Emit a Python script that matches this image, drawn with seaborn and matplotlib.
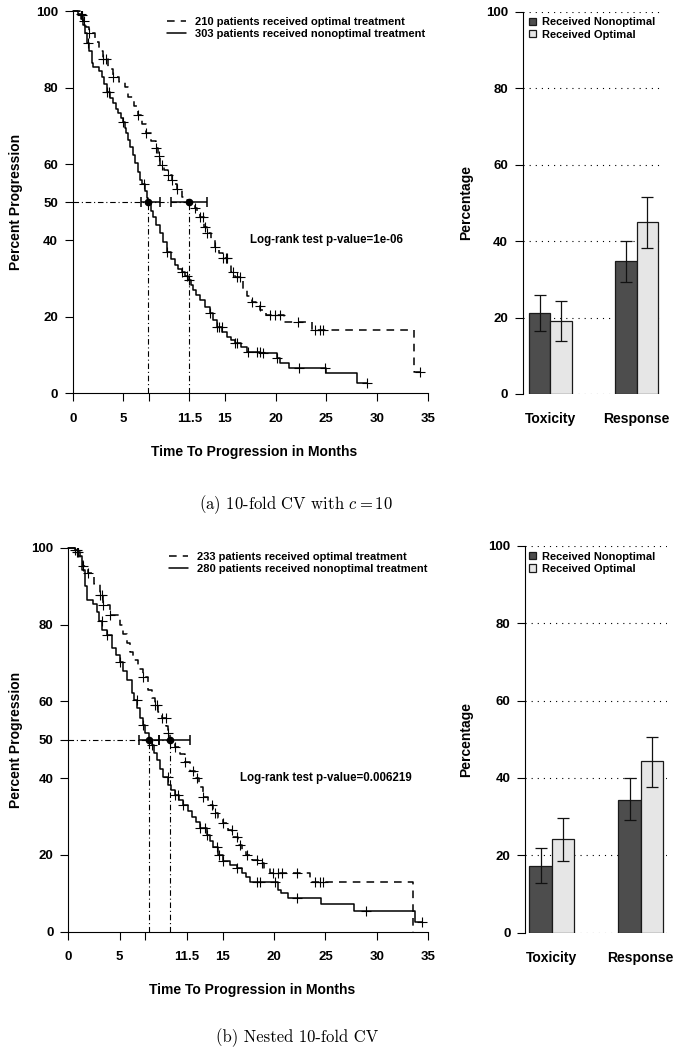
"""
Treatment comparison figure: Kaplan-Meier curves + toxicity/response bars
Run: python plot.py
"""

import matplotlib
matplotlib.use('Agg')

import matplotlib.pyplot as plt
import numpy as np
import pandas as pd
import seaborn as sns


# ── Panel (a) — 10-fold CV with c = 10 ───────────────────────────────────────

# step breakpoints: time (months) -> percent progression-free after the step
A_OPT_T = [0, 0.7, 1.0, 1.3, 1.64, 2.2, 2.6, 3.0, 3.5, 4.0, 4.6, 5.16, 5.5, 6.0, 6.47,
           6.85, 7.23, 7.7, 8.2, 8.4, 8.6, 9.0, 9.43, 9.76, 10.0, 10.3, 10.75, 11.2,
           11.47, 12.06, 12.3, 12.55, 12.9, 13.2, 13.6, 14.0, 14.4, 14.85, 15.2, 15.6,
           16.0, 16.8, 17.2, 17.65, 18.1, 18.5, 19.1, 20.8, 23.6, 33.6]
A_OPT_S = [100, 99, 97.5, 96, 94.2, 92, 89.7, 87.4, 85, 82.9, 81.5, 80.1, 77.6, 75.2, 72.9,
           70.5, 68.1, 66, 64.1, 62, 59.8, 58.5, 57.1, 55.8, 54.8, 53.4, 51.5, 50.6,
           49.9, 48.4, 47.4, 46.2, 43.6, 41.9, 40.1, 38.4, 36.8, 35.3, 33.5, 31.8,
           30.5, 27.0, 25.5, 24.0, 22.8, 21.8, 20.5, 18.7, 16.6, 5.7]
A_OPT_CENS = [0.89, 1.11, 1.64, 3.02, 3.28, 4.0, 6.47, 7.23, 8.2, 8.55, 8.78, 9.43, 9.76,
              10.32, 12.06, 12.55, 12.88, 13.05, 13.21, 14.03, 14.86, 15.09, 15.19, 15.84,
              16.17, 16.5, 17.65, 18.47, 19.46, 19.95, 20.45, 22.25, 23.9, 24.39, 24.72, 34.25]

A_NON_T = [0, 0.55, 0.8, 1.0, 1.2, 1.4, 1.6, 1.87, 2.0, 2.6, 2.86, 3.1, 3.35, 3.68, 4.0,
           4.25, 4.5, 4.8, 5.0, 5.15, 5.3, 5.5, 5.65, 5.9, 6.14, 6.4, 6.64, 6.85, 7.1, 7.3,
           7.46, 7.7, 7.95, 8.25, 8.6, 8.95, 9.33, 9.7, 10.1, 10.4, 10.75, 11.1, 11.4,
           11.65, 11.9, 12.2, 12.55, 13.0, 13.5, 13.85, 14.2, 14.7, 15.2, 15.6, 16.0,
           16.6, 17.2, 18.5, 20.1, 20.4, 21.3, 25.0, 28.0]
A_NON_S = [100, 99.3, 98, 96.5, 94.2, 91.8, 89.5, 86.4, 85.5, 84.5, 82.9, 81, 79, 77.2, 75.9,
           74.5, 73.3, 72, 71.1, 69.5, 68.1, 66.3, 64.6, 62.4, 60.2, 58, 55.8, 54.8, 53, 51,
           49.8, 47.8, 46.2, 44, 41.9, 39.5, 37.1, 35.2, 33.6, 32.6, 31.8, 30.8, 29.7,
           28.3, 27.0, 25.7, 24.4, 22.6, 20.9, 19.1, 17.4, 16.0, 14.8, 13.9, 13.1,
           12.0, 10.9, 10.5, 9.2, 7.9, 6.5, 5.2, 2.6]
A_NON_CENS = [0.79, 1.54, 3.35, 3.61, 5.0, 7.03, 9.33, 10.75, 11.24, 11.5, 13.54, 14.26,
              14.46, 14.69, 16.0, 16.17, 17.32, 18.14, 18.47, 18.8, 20.12, 22.35, 24.88, 28.99]

A_MEDIAN = [7.46, 11.47]          # nonoptimal, optimal
A_CI_LO  = [6.7, 9.66]
A_CI_HI  = [8.6, 13.2]
A_N_OPT, A_N_NON = 210, 303
A_PVALUE = '1e-06'

A_BAR_NON    = [21.1, 34.8]       # Toxicity, Response
A_BAR_NON_LO = [16.6, 29.4]
A_BAR_NON_HI = [25.8, 40.1]
A_BAR_OPT    = [19.1, 44.9]
A_BAR_OPT_LO = [13.9, 38.1]
A_BAR_OPT_HI = [24.2, 51.4]


# ── Panel (b) — Nested 10-fold CV ────────────────────────────────────────────

B_OPT_T = [0, 0.8, 1.1, 1.46, 1.94, 2.5, 3.08, 3.4, 4.05, 5.0, 5.3, 5.67, 6.0, 6.32, 6.8,
           7.23, 7.77, 8.1, 8.4, 8.75, 9.07, 9.5, 9.7, 9.91, 10.37, 10.85, 11.34, 11.8,
           12.3, 12.7, 13.1, 13.6, 14.1, 14.6, 15.07, 15.5, 15.9, 16.5, 16.9, 17.3,
           17.9, 18.5, 19.0, 19.6, 23.5, 33.5]
B_OPT_S = [100, 99, 97.5, 95.2, 93.5, 90.5, 87.8, 85.2, 82.6, 80, 77.5, 75.2, 73, 70.8, 68.5,
           66.5, 63.0, 61, 59.1, 57.3, 55.6, 53.5, 51.7, 49.8, 48.2, 46.2, 44.3, 42,
           40.0, 37.6, 35.2, 33, 30.9, 29.6, 28.3, 26.5, 24.8, 22.6, 21.3, 20.0,
           18.8, 17.8, 16.5, 15.2, 13.0, 0]
B_OPT_CENS = [0.81, 0.97, 1.46, 1.95, 3.08, 3.24, 3.4, 4.05, 7.23, 8.43, 8.59, 9.07, 9.49,
              9.72, 10.37, 11.34, 12.15, 12.47, 13.12, 13.93, 14.26, 15.07, 15.88, 16.36,
              16.69, 17.33, 18.3, 18.79, 19.92, 20.41, 20.73, 22.26, 23.97, 24.46, 24.78]

B_NON_T = [0, 0.65, 0.97, 1.3, 1.62, 1.85, 2.4, 2.76, 3.0, 3.25, 3.73, 4.22, 4.6, 5.02, 5.35,
           5.67, 6.16, 6.4, 6.65, 6.97, 7.23, 7.45, 7.87, 8.1, 8.35, 8.6, 8.9, 9.24, 9.73,
           10.0, 10.37, 10.8, 11.18, 11.6, 12.0, 12.4, 12.8, 13.45, 13.8, 14.1, 14.6,
           15.07, 15.7, 16.4, 16.9, 17.3, 17.66, 20.4, 20.7, 21.4, 24.6, 27.8, 33.7]
B_NON_S = [100, 99.5, 97.8, 94.3, 90, 86.5, 85.5, 83.4, 81, 78.7, 77.4, 73.9, 72, 70.4, 68,
           65.6, 62.2, 60.3, 58.3, 55.8, 54.0, 51.7, 49.8, 48.7, 46.7, 44.8, 42.5, 40.4, 38.3,
           37.0, 35.6, 34.3, 33.0, 31.5, 30.0, 28.5, 27.0, 25.2, 23.7, 22.2, 20.0,
           18.3, 17.3, 16.5, 15.3, 14.3, 12.9, 10.9, 10.0, 8.7, 7.1, 5.4, 2.6]
B_NON_CENS = [0.65, 0.81, 3.24, 3.73, 5.02, 6.64, 7.23, 8.1, 9.72, 10.37, 10.69, 11.18, 12.8,
              13.28, 13.45, 14.42, 14.68, 15.07, 16.4, 18.3, 18.63, 20.09, 22.26, 28.99, 34.34]

B_MEDIAN = [7.87, 9.91]
B_CI_LO  = [6.9, 8.85]
B_CI_HI  = [8.85, 11.83]
B_N_OPT, B_N_NON = 233, 280
B_PVALUE = '0.006219'

B_BAR_NON    = [17.2, 34.4]
B_BAR_NON_LO = [12.9, 29.0]
B_BAR_NON_HI = [21.8, 40.0]
B_BAR_OPT    = [24.1, 44.4]
B_BAR_OPT_LO = [18.4, 37.7]
B_BAR_OPT_HI = [29.7, 50.6]


# ── Shared labels / ticks ────────────────────────────────────────────────────

KM_XTICKS      = [0, 5, 7.5, 11.5, 15, 20, 25, 30, 35]
KM_XTICKLABELS = ['0', '5', '', '11.5', '15', '20', '25', '30', '35']
KM_YTICKS      = [0, 20, 40, 50, 60, 80, 100]
BAR_YTICKS     = [0, 20, 40, 60, 80, 100]
BAR_OUTCOMES   = ['Toxicity', 'Response']
BAR_GROUPS     = ['Received Nonoptimal', 'Received Optimal']

DARK  = '#4d4d4d'
LIGHT = '#e6e6e6'
W, H  = 679, 1050

sns.set_style('ticks', rc={'axes.edgecolor': 'black', 'text.color': 'black',
                           'axes.labelcolor': 'black', 'xtick.color': 'black',
                           'ytick.color': 'black'})
plt.rcParams['font.family'] = ['Liberation Sans', 'DejaVu Sans']
plt.rcParams['font.weight'] = 'bold'
plt.rcParams['axes.labelweight'] = 'bold'
plt.rcParams['mathtext.fontset'] = 'cm'


def px_rect(x0, x1, y_top, y_bot):
    """axes rect in figure fraction from pixel coords (top-left origin)"""
    return [x0 / W, 1 - y_bot / H, (x1 - x0) / W, (y_bot - y_top) / H]


def draw_curve(ax, times, surv, cens, label, linestyle):
    t_end = max(times[-1], max(cens))
    df = pd.DataFrame({'t': list(times) + [t_end], 's': list(surv) + [surv[-1]]})
    sns.lineplot(data=df, x='t', y='s', drawstyle='steps-post', estimator=None, sort=False,
                 color='black', linewidth=1.1, linestyle=linestyle, label=label, ax=ax)
    idx = np.searchsorted(times, cens, side='right') - 1
    sns.scatterplot(x=cens, y=np.asarray(surv)[idx], marker='+', s=50, color='black',
                    linewidth=0.8, ax=ax, zorder=4, legend=False)


def draw_km(ax, opt, non, n_opt, n_non, medians, ci_lo, ci_hi, pvalue, leg_anchor, ylab_x):
    draw_curve(ax, *opt, f'{n_opt} patients received optimal treatment', (0, (5, 4)))
    draw_curve(ax, *non, f'{n_non} patients received nonoptimal treatment', '-')
    for line in ax.lines:
        line.set_clip_on(False)

    dashdot = (0, (5, 2.5, 1, 2.5))
    ax.plot([0, max(medians)], [50, 50], color='black', lw=0.8, linestyle=dashdot)
    for m in medians:
        ax.plot([m, m], [0, 50], color='black', lw=0.8, linestyle=dashdot)
    med = np.asarray(medians)
    ax.errorbar(med, [50, 50], xerr=[med - np.asarray(ci_lo), np.asarray(ci_hi) - med],
                fmt='o', ms=4.5, color='black', elinewidth=1.1, capsize=3.5, capthick=1.1,
                zorder=5)

    ax.set_xlim(0, 35)
    ax.set_ylim(0, 100)
    ax.set_xticks(KM_XTICKS)
    ax.set_xticklabels(KM_XTICKLABELS)
    ax.set_yticks(KM_YTICKS)
    ax.tick_params(axis='both', labelsize=9.5, length=6, width=0.8, direction='out')
    ax.tick_params(axis='x', pad=8)
    ax.tick_params(axis='y', pad=4.5)
    sns.despine(ax=ax)
    ax.spines['left'].set_bounds(0, 100)
    ax.spines['bottom'].set_bounds(0, 35)
    for sp in ('left', 'bottom'):
        ax.spines[sp].set_linewidth(0.8)

    ax.set_xlabel('Time To Progression in Months', fontsize=10)
    ax.set_ylabel('Percent Progression', fontsize=10)
    ax.xaxis.set_label_coords(0.51, -0.135)
    ax.yaxis.set_label_coords(ylab_x, 0.5)

    handles, labels = ax.get_legend_handles_labels()
    ax.legend(handles, labels, loc='upper left', bbox_to_anchor=leg_anchor, frameon=False,
              fontsize=8, handlelength=1.7, handletextpad=0.8, labelspacing=0.15,
              borderaxespad=0, borderpad=0)
    ax.text(0.715, 0.40, f'Log-rank test p-value={pvalue}', transform=ax.transAxes,
            ha='center', va='center', fontsize=8.3)


def draw_bars(ax, non, non_lo, non_hi, opt, opt_lo, opt_hi, xlim, leg_anchor, ylab_x):
    df = pd.DataFrame({
        'Outcome': BAR_OUTCOMES * 2,
        'Group':   [BAR_GROUPS[0]] * 2 + [BAR_GROUPS[1]] * 2,
        'Pct':     non + opt,
        'Lo':      non_lo + opt_lo,
        'Hi':      non_hi + opt_hi,
    })
    sns.barplot(data=df, x='Outcome', y='Pct', hue='Group', order=BAR_OUTCOMES,
                hue_order=BAR_GROUPS, palette=[DARK, LIGHT], saturation=1, width=0.5,
                errorbar=None, edgecolor='#1a1a1a', linewidth=0.9, ax=ax, zorder=2)
    for container, (_, grp) in zip(ax.containers, df.groupby('Group', sort=False)):
        xs = [b.get_x() + b.get_width() / 2 for b in container]
        ys = grp['Pct'].to_numpy()
        ax.errorbar(xs, ys, yerr=[ys - grp['Lo'].to_numpy(), grp['Hi'].to_numpy() - ys],
                    fmt='none', ecolor='#111111', elinewidth=0.9, capsize=4, capthick=0.9,
                    zorder=3)

    leg = ax.get_legend()
    handles, labels = leg.legend_handles, [t.get_text() for t in leg.texts]
    ax.legend(handles, labels, loc='upper left', bbox_to_anchor=leg_anchor, frameon=False,
              fontsize=8, handlelength=0.65, handleheight=0.65, handletextpad=0.5,
              labelspacing=0.2, borderaxespad=0, borderpad=0)

    ax.set_xlim(*xlim)
    ax.set_ylim(0, 100)
    ax.set_yticks(BAR_YTICKS)
    ax.yaxis.grid(True, linestyle=(0, (1, 4.5)), color='black', linewidth=0.8)
    ax.set_axisbelow(True)
    ax.tick_params(axis='y', labelsize=9.5, length=6, width=0.8, pad=4.5)
    ax.tick_params(axis='x', labelsize=10, length=0, pad=13)
    sns.despine(ax=ax, bottom=True)
    ax.spines['left'].set_bounds(0, 100)
    ax.spines['left'].set_linewidth(0.8)
    ax.set_xlabel('')
    ax.set_ylabel('Percentage', fontsize=10)
    ax.yaxis.set_label_coords(ylab_x, 0.5)


def main() -> None:
    fig = plt.figure(figsize=(W / 100, H / 100), dpi=100)

    ax_a = fig.add_axes(px_rect(72.7, 427.7, 11.3, 393.3))
    draw_km(ax_a, (A_OPT_T, A_OPT_S, A_OPT_CENS), (A_NON_T, A_NON_S, A_NON_CENS),
            A_N_OPT, A_N_NON, A_MEDIAN, A_CI_LO, A_CI_HI, A_PVALUE, (0.265, 0.985), -0.14)

    ax_b = fig.add_axes(px_rect(68.3, 428.3, 548, 931.7))
    draw_km(ax_b, (B_OPT_T, B_OPT_S, B_OPT_CENS), (B_NON_T, B_NON_S, B_NON_CENS),
            B_N_OPT, B_N_NON, B_MEDIAN, B_CI_LO, B_CI_HI, B_PVALUE, (0.28, 0.99), -0.126)

    bar_a = fig.add_axes(px_rect(522.7, 660.0, 11.7, 394))
    draw_bars(bar_a, A_BAR_NON, A_BAR_NON_LO, A_BAR_NON_HI, A_BAR_OPT, A_BAR_OPT_LO,
              A_BAR_OPT_HI, (-0.32, 1.27), (0.045, 0.985), -0.36)

    bar_b = fig.add_axes(px_rect(525, 666.5, 545.7, 932.7))
    draw_bars(bar_b, B_BAR_NON, B_BAR_NON_LO, B_BAR_NON_HI, B_BAR_OPT, B_BAR_OPT_LO,
              B_BAR_OPT_HI, (-0.30, 1.29), (0.03, 0.985), -0.365)

    fig.text(296 / W, 1 - 505 / H, r'(a) 10-fold CV with $c = 10$', family='cmr10',
             fontsize=12, weight='normal', ha='center', va='center')
    fig.text(297 / W, 1 - 1038 / H, '(b) Nested 10-fold CV', family='cmr10',
             fontsize=12, weight='normal', ha='center', va='center')

    fig.savefig('out.png', dpi=100)
    plt.close(fig)


if __name__ == '__main__':
    main()
